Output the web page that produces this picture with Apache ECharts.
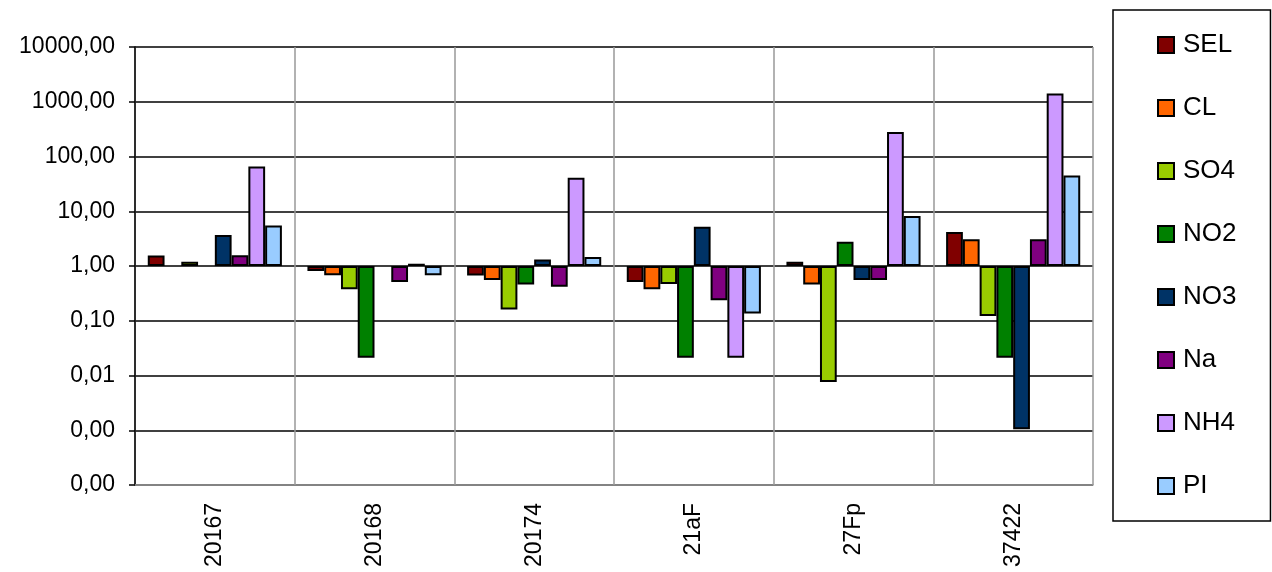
<!DOCTYPE html>
<html>
<head>
<meta charset="utf-8">
<script src="https://cdn.jsdelivr.net/npm/echarts@6/dist/echarts.min.js"></script>
<style>
  html, body { margin: 0; padding: 0; background: #fff; }
  #chart { width: 1272px; height: 572px; }
</style>
</head>
<body>
<div id="chart"></div>
<script>
// categories (sample codes)
const categories = ["20167", "20168", "20174", "21aF", "27Fp", "37422"];

// series values (null = no bar)
const sel = [1.55, 0.81, 0.67, 0.51, 1.2, 4.2];
const cl = [null, 0.68, 0.555, 0.375, 0.46, 3.07];
const so4 = [1.2, 0.375, 0.16, 0.47, 0.0076, 0.122];
const no2 = [null, 0.021, 0.46, 0.021, 2.78, 0.021];
const no3 = [3.7, null, 1.32, 5.2, 0.555, 0.00104];
const na = [1.57, 0.51, 0.42, 0.236, 0.555, 3.07];
const nh4 = [66, 1.1, 41, 0.021, 280, 1410];
const pi = [5.5, 0.675, 1.46, 0.135, 8.2, 45];

const seriesNames = ["SEL", "CL", "SO4", "NO2", "NO3", "Na", "NH4", "PI"];
const seriesData = [sel, cl, so4, no2, no3, na, nh4, pi];
const colors = ["#800000", "#ff6600", "#99cc00", "#008000", "#003366", "#800080", "#cc99ff", "#99ccff"];

const font = "'Liberation Sans', Arial, sans-serif";

let chart = echarts.init(document.getElementById("chart"), null, { renderer: "canvas" });

const option = {
  backgroundColor: "#fff",
  animation: false,
  color: colors,
  textStyle: { fontFamily: font },
  grid: {
    left: 135,
    right: 179,
    top: 47,
    bottom: 87,
    containLabel: false,
  },
  legend: {
    orient: "vertical",
    left: 1113,
    top: 10,
    padding: [22, 34, 22, 44],
    itemGap: 37,
    itemWidth: 16,
    itemHeight: 16,
    icon: "rect",
    borderColor: "#000",
    borderWidth: 1.5,
    textStyle: {
      fontSize: 26,
      color: "#000",
      fontFamily: font,
      lineHeight: 26,
      padding: [0, 0, 0, 4],
    },
    data: seriesNames,
  },
  xAxis: {
    type: "category",
    data: categories,
    axisLine: { show: true, lineStyle: { color: "#999", width: 1.5 } },
    axisTick: { show: false },
    axisLabel: {
      rotate: 90,
      margin: 18,
      fontSize: 23,
      color: "#000",
      fontFamily: font,
    },
    splitLine: {
      show: true,
      interval: 0,
      lineStyle: { color: "#999", width: 1.5 },
    },
  },
  yAxis: {
    type: "log",
    logBase: 10,
    min: 0.0001,
    max: 10000,
    interval: 1,
    axisLine: { show: true, lineStyle: { color: "#000", width: 1.5 } },
    axisTick: { show: true, length: 6, lineStyle: { color: "#000", width: 1.5 } },
    axisLabel: {
      margin: 20,
      fontSize: 23,
      color: "#000",
      fontFamily: font,
      formatter: function (v) {
        return v.toFixed(2).replace(".", ",");
      },
    },
    splitLine: { show: true, lineStyle: { color: "#000", width: 1.5 } },
  },
  series: seriesNames.map(function (name, i) {
    return {
      name: name,
      type: "bar",
      data: seriesData[i],
      barGap: "0%",
      barCategoryGap: "16%",
      itemStyle: { color: colors[i], borderColor: "#000", borderWidth: 2 },
    };
  }),
};

chart.setOption(option);
</script>
</body>
</html>
